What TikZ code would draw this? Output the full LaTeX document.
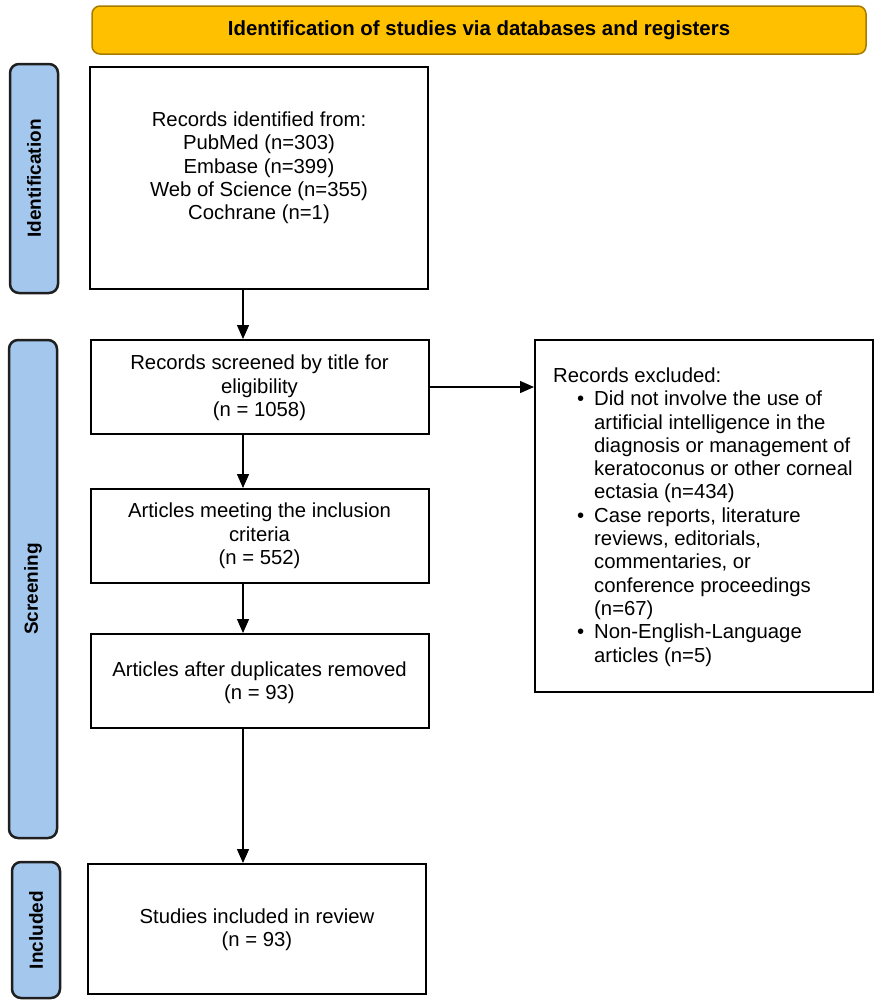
\documentclass[tikz,border=0pt]{standalone}
\usepackage{fontspec}
\setmainfont{Liberation Sans}
\usetikzlibrary{arrows.meta}
\definecolor{bannerfill}{HTML}{FFC000}
\definecolor{bannerdraw}{HTML}{A67C00}
\definecolor{barfill}{HTML}{A4C7EE}
\definecolor{bardraw}{HTML}{1F1F1F}
\begin{document}
\begin{tikzpicture}[x=1pt,y=-1pt,
  font=\fontsize{20.3}{23.3}\selectfont,
  box/.style={draw=black, line width=2pt, fill=white, inner sep=0pt, minimum width=338pt},
  txt/.style={align=center, inner sep=0pt},
  banner/.style={draw=bannerdraw, fill=bannerfill, line width=1.5pt, rounded corners=8pt, inner sep=0pt,
    font=\fontsize{20.4}{23}\selectfont\bfseries},
  sidebar/.style={draw=bardraw, fill=barfill, line width=2.5pt, rounded corners=9pt, inner sep=0pt,
    minimum width=48pt},
  sidelabel/.style={rotate=90, font=\fontsize{19}{22}\selectfont\bfseries, inner sep=0pt},
  arr/.style={line width=1.4pt, -{Triangle[length=14pt,width=12pt]}}
]
\useasboundingbox (0,0) rectangle (886,1004);
\coordinate (ax) at (243,0);

% banner
\node[banner, minimum width=774pt, minimum height=48pt] (ban) at (479,30) {Identification of studies via databases and registers};

% side bars
\node[sidebar, minimum height=229pt] (idbar) at (34,178.5) {};
\node[sidelabel] (idlab) at (idbar.center) {Identification};
\node[sidebar, minimum height=498pt] (scbar) at (33,589) {};
\node[sidelabel] (sclab) at (scbar.center) {Screening};
\node[sidebar, minimum height=136pt] (inbar) at (36,930) {};
\node[sidelabel] (inlab) at (inbar.center) {Included};

% boxes
\node[box, minimum height=222pt] (b1) at (259,178) {};
\node[txt] (b1t) at (259,168) {Records identified from:\\PubMed (n=303)\\Embase (n=399)\\Web of Science (n=355)\\Cochrane (n=1)};

\node[box, minimum height=94pt] (b2) at (259.5,387) {};
\node[txt] (b2t) at (259.5,388) {Records screened by title for\\eligibility\\(n = 1058)};

\node[box, minimum height=94pt] (b3) at (259.5,536) {};
\node[txt] (b3t) at (259.5,536) {Articles meeting the inclusion\\criteria\\(n = 552)};

\node[box, minimum height=94pt] (b4) at (259.5,681) {};
\node[txt] (b4t) at (259.5,683) {Articles after duplicates removed\\(n = 93)};

\node[box, minimum height=130pt] (b5) at (257,929) {};
\node[txt] (b5t) at (257,930) {Studies included in review\\(n = 93)};

\node[box, minimum height=352pt] (ex) at (704,516) {};
\node[align=left, inner sep=0pt, anchor=west] (ext) at (553,517) {Records excluded:\\
\hspace*{24pt}\makebox[17pt][l]{•}Did not involve the use of\\
\hspace*{41pt}artificial intelligence in the\\
\hspace*{41pt}diagnosis or management of\\
\hspace*{41pt}keratoconus or other corneal\\
\hspace*{41pt}ectasia (n=434)\\
\hspace*{24pt}\makebox[17pt][l]{•}Case reports, literature\\
\hspace*{41pt}reviews, editorials,\\
\hspace*{41pt}commentaries, or\\
\hspace*{41pt}conference proceedings\\
\hspace*{41pt}(n=67)\\
\hspace*{24pt}\makebox[17pt][l]{•}Non-English-Language\\
\hspace*{41pt}articles (n=5)};

% connectors
\draw[arr] (b1.south -| ax) -- (b2.north -| ax);
\draw[arr] (b2.south -| ax) -- (b3.north -| ax);
\draw[arr] (b3.south -| ax) -- (b4.north -| ax);
\draw[arr] (b4.south -| ax) -- (b5.north -| ax);
\draw[arr] (b2.east) -- (b2.east -| ex.west);
\end{tikzpicture}
\end{document}
